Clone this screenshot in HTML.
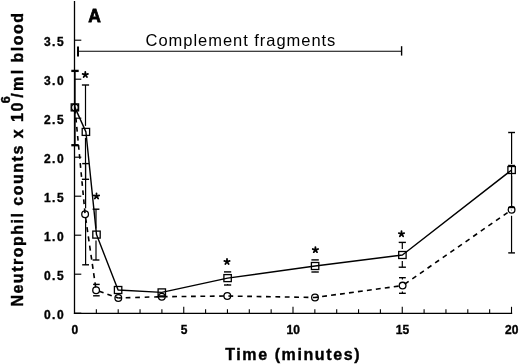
<!DOCTYPE html>
<html><head><meta charset="utf-8"><style>
html,body{margin:0;padding:0;background:#fff;}
body{width:520px;height:364px;overflow:hidden;}
svg{display:block;will-change:transform;}
text{font-family:"Liberation Sans",sans-serif;fill:#000;}
.tl{font-size:12px;font-weight:bold;letter-spacing:1.5px;stroke:#000;stroke-width:0.35px;}
.xl{font-size:12px;font-weight:bold;stroke:#000;stroke-width:0.35px;}
.ax{font-size:16px;font-weight:bold;letter-spacing:1.6px;stroke:#000;stroke-width:0.4px;}
.ay{font-size:16px;font-weight:bold;letter-spacing:1.5px;stroke:#000;stroke-width:0.4px;}
.cf{font-size:16.5px;letter-spacing:0.96px;}
.A{font-size:19.2px;font-weight:bold;stroke:#000;stroke-width:0.8px;}
</style></head><body>
<svg width="520" height="364" viewBox="0 0 520 364">
<rect width="520" height="364" fill="#fff"/>
<g stroke="#000" stroke-linecap="butt">
<line x1="74.50" y1="1.00" x2="74.50" y2="313.90" stroke-width="1.3" />
<line x1="73.90" y1="313.30" x2="512.20" y2="313.30" stroke-width="1.3" />
<line x1="74.50" y1="313.20" x2="81.30" y2="313.20" stroke-width="1.15" />
<line x1="74.50" y1="274.20" x2="81.30" y2="274.20" stroke-width="1.15" />
<line x1="74.50" y1="235.20" x2="81.30" y2="235.20" stroke-width="1.15" />
<line x1="74.50" y1="196.20" x2="81.30" y2="196.20" stroke-width="1.15" />
<line x1="74.50" y1="157.20" x2="81.30" y2="157.20" stroke-width="1.15" />
<line x1="74.50" y1="118.20" x2="81.30" y2="118.20" stroke-width="1.15" />
<line x1="74.50" y1="79.20" x2="81.30" y2="79.20" stroke-width="1.15" />
<line x1="74.50" y1="40.20" x2="81.30" y2="40.20" stroke-width="1.15" />
<line x1="96.35" y1="309.20" x2="96.35" y2="313.30" stroke-width="1.1" />
<line x1="118.20" y1="309.20" x2="118.20" y2="313.30" stroke-width="1.1" />
<line x1="140.05" y1="309.20" x2="140.05" y2="313.30" stroke-width="1.1" />
<line x1="161.90" y1="309.20" x2="161.90" y2="313.30" stroke-width="1.1" />
<line x1="183.75" y1="306.80" x2="183.75" y2="313.30" stroke-width="1.1" />
<line x1="205.60" y1="309.20" x2="205.60" y2="313.30" stroke-width="1.1" />
<line x1="227.45" y1="309.20" x2="227.45" y2="313.30" stroke-width="1.1" />
<line x1="249.30" y1="309.20" x2="249.30" y2="313.30" stroke-width="1.1" />
<line x1="271.15" y1="309.20" x2="271.15" y2="313.30" stroke-width="1.1" />
<line x1="293.00" y1="306.80" x2="293.00" y2="313.30" stroke-width="1.1" />
<line x1="314.85" y1="309.20" x2="314.85" y2="313.30" stroke-width="1.1" />
<line x1="336.70" y1="309.20" x2="336.70" y2="313.30" stroke-width="1.1" />
<line x1="358.55" y1="309.20" x2="358.55" y2="313.30" stroke-width="1.1" />
<line x1="380.40" y1="309.20" x2="380.40" y2="313.30" stroke-width="1.1" />
<line x1="402.25" y1="306.80" x2="402.25" y2="313.30" stroke-width="1.1" />
<line x1="424.10" y1="309.20" x2="424.10" y2="313.30" stroke-width="1.1" />
<line x1="445.95" y1="309.20" x2="445.95" y2="313.30" stroke-width="1.1" />
<line x1="467.80" y1="309.20" x2="467.80" y2="313.30" stroke-width="1.1" />
<line x1="489.65" y1="309.20" x2="489.65" y2="313.30" stroke-width="1.1" />
<line x1="511.50" y1="306.80" x2="511.50" y2="313.30" stroke-width="1.1" />
<line x1="78.00" y1="51.30" x2="401.80" y2="51.30" stroke-width="1.05" />
<line x1="78.00" y1="46.50" x2="78.00" y2="56.50" stroke-width="2.0" />
<line x1="401.60" y1="46.20" x2="401.60" y2="55.60" stroke-width="1.4" />
<line x1="75.00" y1="70.90" x2="75.00" y2="145.20" stroke-width="1.3" />
<line x1="71.30" y1="70.90" x2="78.70" y2="70.90" stroke-width="2.3" />
<line x1="71.30" y1="145.20" x2="78.70" y2="145.20" stroke-width="2.3" />
<line x1="85.50" y1="85.00" x2="85.50" y2="125.90" stroke-width="1.2" />
<line x1="85.50" y1="137.90" x2="85.50" y2="179.30" stroke-width="1.2" />
<line x1="81.90" y1="85.00" x2="89.10" y2="85.00" stroke-width="1.4" />
<line x1="81.90" y1="179.30" x2="89.10" y2="179.30" stroke-width="1.4" />
<line x1="96.00" y1="209.20" x2="96.00" y2="228.60" stroke-width="1.2" />
<line x1="96.00" y1="240.60" x2="96.00" y2="260.00" stroke-width="1.2" />
<line x1="92.60" y1="209.20" x2="99.40" y2="209.20" stroke-width="1.4" />
<line x1="92.60" y1="260.00" x2="99.40" y2="260.00" stroke-width="1.4" />
<line x1="227.60" y1="271.90" x2="227.60" y2="272.10" stroke-width="1.2" />
<line x1="227.60" y1="284.10" x2="227.60" y2="285.00" stroke-width="1.2" />
<line x1="224.00" y1="271.90" x2="231.20" y2="271.90" stroke-width="1.4" />
<line x1="224.00" y1="285.00" x2="231.20" y2="285.00" stroke-width="1.4" />
<line x1="315.10" y1="271.80" x2="315.10" y2="272.00" stroke-width="1.2" />
<line x1="311.40" y1="259.90" x2="318.80" y2="259.90" stroke-width="1.4" />
<line x1="311.40" y1="272.00" x2="318.80" y2="272.00" stroke-width="1.4" />
<line x1="402.30" y1="242.40" x2="402.30" y2="249.00" stroke-width="1.2" />
<line x1="402.30" y1="261.00" x2="402.30" y2="267.20" stroke-width="1.2" />
<line x1="398.70" y1="242.40" x2="405.90" y2="242.40" stroke-width="1.4" />
<line x1="398.70" y1="267.20" x2="405.90" y2="267.20" stroke-width="1.4" />
<line x1="511.60" y1="132.50" x2="511.60" y2="164.00" stroke-width="1.2" />
<line x1="511.60" y1="176.00" x2="511.60" y2="207.50" stroke-width="1.2" />
<line x1="508.20" y1="132.50" x2="515.00" y2="132.50" stroke-width="1.4" />
<line x1="508.20" y1="207.50" x2="515.00" y2="207.50" stroke-width="1.4" />
<line x1="85.60" y1="163.60" x2="85.60" y2="208.20" stroke-width="1.2" />
<line x1="85.60" y1="220.20" x2="85.60" y2="264.80" stroke-width="1.2" />
<line x1="82.20" y1="163.60" x2="89.00" y2="163.60" stroke-width="1.4" />
<line x1="82.20" y1="264.80" x2="89.00" y2="264.80" stroke-width="1.4" />
<line x1="93.10" y1="284.40" x2="99.70" y2="284.40" stroke-width="1.4" />
<line x1="93.10" y1="295.80" x2="99.70" y2="295.80" stroke-width="1.4" />
<line x1="402.40" y1="277.70" x2="402.40" y2="279.60" stroke-width="1.2" />
<line x1="402.40" y1="291.60" x2="402.40" y2="293.30" stroke-width="1.2" />
<line x1="399.00" y1="277.70" x2="405.80" y2="277.70" stroke-width="1.4" />
<line x1="399.00" y1="293.30" x2="405.80" y2="293.30" stroke-width="1.4" />
<line x1="511.55" y1="165.50" x2="511.55" y2="203.80" stroke-width="1.2" />
<line x1="511.55" y1="215.80" x2="511.55" y2="252.90" stroke-width="1.2" />
<line x1="508.15" y1="165.50" x2="514.95" y2="165.50" stroke-width="1.4" />
<line x1="508.15" y1="252.90" x2="514.95" y2="252.90" stroke-width="1.4" />
<polyline points="74.90,107.40 85.90,131.90 96.50,234.60 118.10,290.00 161.80,292.40 227.60,278.10 315.10,266.00 402.40,255.00 511.60,170.00" fill="none" stroke-width="1.4" stroke-linejoin="round"/>
<line x1="74.90" y1="107.40" x2="85.10" y2="214.20" stroke-width="1.6" stroke-dasharray="4.7 4.40" stroke-dashoffset="-1.4"/>
<line x1="85.10" y1="214.20" x2="96.10" y2="290.20" stroke-width="1.6" stroke-dasharray="5.0 4.30" stroke-dashoffset="-3.8"/>
<line x1="96.10" y1="290.20" x2="118.30" y2="298.00" stroke-width="1.6" stroke-dasharray="4.6 4.07" stroke-dashoffset="-3.3"/>
<line x1="118.30" y1="298.00" x2="161.80" y2="296.70" stroke-width="1.6" stroke-dasharray="4.7 4.80" stroke-dashoffset="-7.4"/>
<line x1="161.80" y1="296.70" x2="227.30" y2="296.00" stroke-width="1.6" stroke-dasharray="4.8 4.60" stroke-dashoffset="-1.0"/>
<line x1="227.30" y1="296.00" x2="315.00" y2="297.50" stroke-width="1.6" stroke-dasharray="4.8 4.60" stroke-dashoffset="-1.1"/>
<line x1="315.00" y1="297.50" x2="402.60" y2="285.60" stroke-width="1.6" stroke-dasharray="4.9 4.14" stroke-dashoffset="-7.17"/>
<line x1="402.60" y1="285.60" x2="511.55" y2="209.80" stroke-width="1.6" stroke-dasharray="4.8 4.47" stroke-dashoffset="-2.56"/>
<line x1="156.50" y1="296.75" x2="163.50" y2="296.70" stroke-width="1.6" />
<rect x="71.20" y="103.90" width="7.4" height="7.0" fill="none" stroke-width="1.3"/>
<rect x="82.20" y="128.40" width="7.4" height="7.0" fill="none" stroke-width="1.3"/>
<rect x="92.80" y="231.10" width="7.4" height="7.0" fill="none" stroke-width="1.3"/>
<rect x="114.40" y="286.50" width="7.4" height="7.0" fill="none" stroke-width="1.3"/>
<rect x="158.10" y="288.90" width="7.4" height="7.0" fill="none" stroke-width="1.3"/>
<rect x="223.90" y="274.60" width="7.4" height="7.0" fill="none" stroke-width="1.3"/>
<rect x="311.40" y="262.50" width="7.4" height="7.0" fill="none" stroke-width="1.3"/>
<rect x="398.70" y="251.50" width="7.4" height="7.0" fill="none" stroke-width="1.3"/>
<rect x="507.90" y="166.50" width="7.4" height="7.0" fill="none" stroke-width="1.3"/>
<circle cx="74.90" cy="107.40" r="3.35" fill="none" stroke-width="1.3"/>
<circle cx="85.10" cy="214.20" r="3.35" fill="none" stroke-width="1.3"/>
<circle cx="96.10" cy="290.20" r="3.35" fill="none" stroke-width="1.3"/>
<circle cx="118.30" cy="298.00" r="3.35" fill="none" stroke-width="1.3"/>
<circle cx="161.80" cy="296.70" r="3.35" fill="none" stroke-width="1.3"/>
<circle cx="227.30" cy="296.00" r="3.35" fill="none" stroke-width="1.3"/>
<circle cx="315.00" cy="297.50" r="3.35" fill="none" stroke-width="1.3"/>
<circle cx="402.60" cy="285.60" r="3.35" fill="none" stroke-width="1.3"/>
<circle cx="511.55" cy="209.80" r="3.35" fill="none" stroke-width="1.3"/>
<path d="M85.30,74.80L85.30,72.00M85.30,74.80L87.96,73.93M85.30,74.80L86.95,77.07M85.30,74.80L83.65,77.07M85.30,74.80L82.64,73.93" stroke-width="1.8" stroke-linecap="round" fill="none"/>
<path d="M96.50,196.30L96.50,193.50M96.50,196.30L99.16,195.43M96.50,196.30L98.15,198.57M96.50,196.30L94.85,198.57M96.50,196.30L93.84,195.43" stroke-width="1.8" stroke-linecap="round" fill="none"/>
<path d="M227.00,261.80L227.00,259.00M227.00,261.80L229.66,260.93M227.00,261.80L228.65,264.07M227.00,261.80L225.35,264.07M227.00,261.80L224.34,260.93" stroke-width="1.8" stroke-linecap="round" fill="none"/>
<path d="M315.40,249.90L315.40,247.10M315.40,249.90L318.06,249.03M315.40,249.90L317.05,252.17M315.40,249.90L313.75,252.17M315.40,249.90L312.74,249.03" stroke-width="1.8" stroke-linecap="round" fill="none"/>
<path d="M401.50,234.00L401.50,231.20M401.50,234.00L404.16,233.13M401.50,234.00L403.15,236.27M401.50,234.00L399.85,236.27M401.50,234.00L398.84,233.13" stroke-width="1.8" stroke-linecap="round" fill="none"/>
</g>
<text x="65.1" y="319.10" text-anchor="end" class="tl">0.0</text><text x="65.1" y="280.10" text-anchor="end" class="tl">0.5</text><text x="65.1" y="241.10" text-anchor="end" class="tl">1.0</text><text x="65.1" y="202.10" text-anchor="end" class="tl">1.5</text><text x="65.1" y="163.10" text-anchor="end" class="tl">2.0</text><text x="65.1" y="124.10" text-anchor="end" class="tl">2.5</text><text x="65.1" y="85.10" text-anchor="end" class="tl">3.0</text><text x="65.1" y="46.10" text-anchor="end" class="tl">3.5</text>
<text x="74.80" y="333.9" text-anchor="middle" class="xl">0</text><text x="184.05" y="333.9" text-anchor="middle" class="xl">5</text><text x="293.30" y="333.9" text-anchor="middle" class="xl">10</text><text x="402.55" y="333.9" text-anchor="middle" class="xl">15</text><text x="511.80" y="333.9" text-anchor="middle" class="xl">20</text>
<text transform="translate(88.3,22.1) scale(0.91,1)" class="A">A</text>
<text x="145.6" y="45.5" class="cf">Complement fragments</text>
<text x="225.2" y="359.8" class="ax">Time (minutes)</text>
<text transform="translate(22.5,306.6) rotate(-90)" class="ay" x="0" y="0">Neutrophil counts x 10<tspan dy="-13" dx="-2" font-size="12.5px" letter-spacing="0">6</tspan><tspan dy="13" dx="-1.6" letter-spacing="2.3">/</tspan><tspan letter-spacing="2.5">m</tspan><tspan>l blood</tspan></text>
</svg>
</body></html>
